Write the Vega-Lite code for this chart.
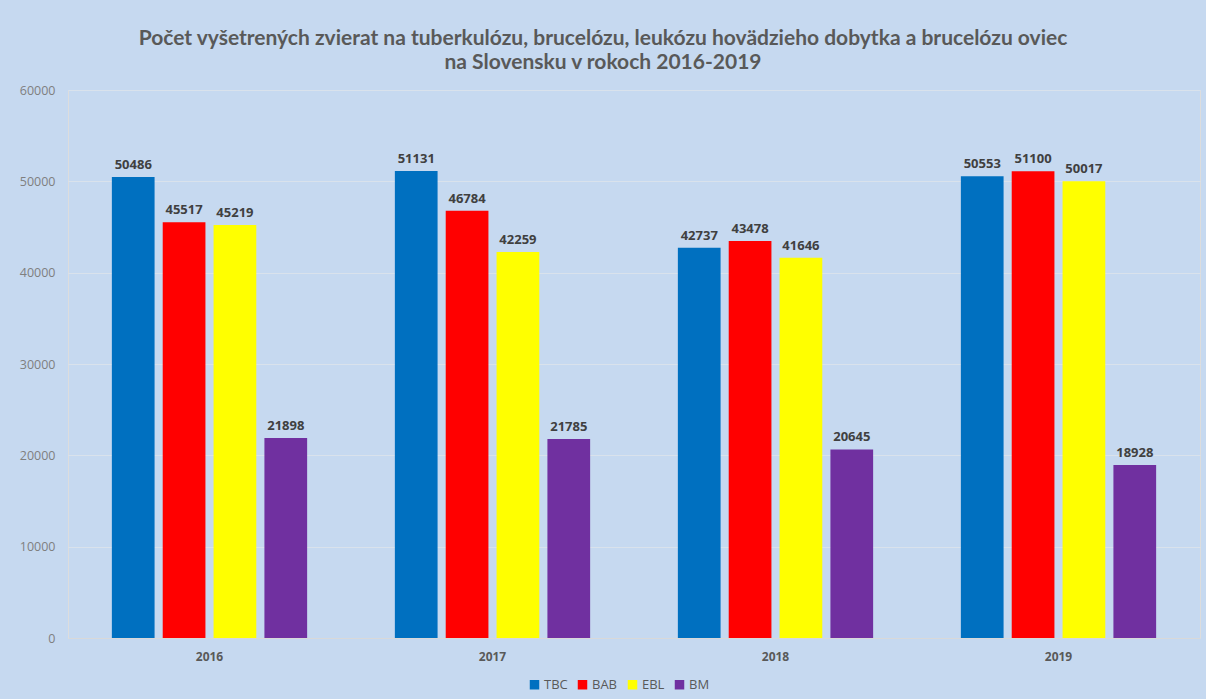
{
  "$schema": "https://vega.github.io/schema/vega-lite/v6.json",
  "width": 1132,
  "height": 548,
  "autosize": {"type": "none"},
  "padding": {"left": 68, "top": 90, "right": 6, "bottom": 61},
  "background": "#C6D9F0",
  "title": {
    "text": ["Počet vyšetrených zvierat na tuberkulózu, brucelózu, leukózu hovädzieho dobytka a brucelózu oviec", "na Slovensku v rokoch 2016-2019"],
    "font": "Lato",
    "fontSize": 21,
    "fontWeight": "bold",
    "color": "#595959",
    "lineHeight": 24,
    "offset": 11,
    "dx": -31
  },
  "data": {
    "values": [
      {"rok": "2016", "typ": "TBC", "pocet": 50486},
      {"rok": "2016", "typ": "BAB", "pocet": 45517},
      {"rok": "2016", "typ": "EBL", "pocet": 45219},
      {"rok": "2016", "typ": "BM", "pocet": 21898},
      {"rok": "2017", "typ": "TBC", "pocet": 51131},
      {"rok": "2017", "typ": "BAB", "pocet": 46784},
      {"rok": "2017", "typ": "EBL", "pocet": 42259},
      {"rok": "2017", "typ": "BM", "pocet": 21785},
      {"rok": "2018", "typ": "TBC", "pocet": 42737},
      {"rok": "2018", "typ": "BAB", "pocet": 43478},
      {"rok": "2018", "typ": "EBL", "pocet": 41646},
      {"rok": "2018", "typ": "BM", "pocet": 20645},
      {"rok": "2019", "typ": "TBC", "pocet": 50553},
      {"rok": "2019", "typ": "BAB", "pocet": 51100},
      {"rok": "2019", "typ": "EBL", "pocet": 50017},
      {"rok": "2019", "typ": "BM", "pocet": 18928}
    ]
  },
  "encoding": {
    "x": {
      "field": "rok", "type": "nominal",
      "scale": {"paddingInner": 0.31, "paddingOuter": 0.155},
      "axis": {
        "title": null, "labelAngle": 0, "labelFont": "Open Sans", "labelFontSize": 12,
        "labelFontWeight": "bold", "labelColor": "#595959", "labelPadding": 13,
        "ticks": false, "domain": true, "domainColor": "#D9D9D9", "grid": false
      }
    },
    "xOffset": {
      "field": "typ", "type": "nominal", "sort": ["TBC", "BAB", "EBL", "BM"],
      "scale": {"paddingInner": 0.16, "paddingOuter": 0}
    },
    "y": {
      "field": "pocet", "type": "quantitative",
      "scale": {"domain": [0, 60000]},
      "axis": {
        "title": null, "values": [0, 10000, 20000, 30000, 40000, 50000, 60000],
        "format": "d", "labelFont": "Open Sans", "labelFontSize": 12.5, "labelColor": "#7F7F7F",
        "labelPadding": 13, "ticks": false, "domain": false,
        "gridColor": "#D9E2EC", "gridWidth": 1
      }
    }
  },
  "layer": [
    {
      "mark": {"type": "bar"},
      "encoding": {
        "color": {
          "field": "typ", "type": "nominal", "sort": ["TBC", "BAB", "EBL", "BM"],
          "scale": {"domain": ["TBC", "BAB", "EBL", "BM"], "range": ["#0070C0", "#FF0000", "#FFFF00", "#7030A0"]},
          "legend": {
            "title": null, "orient": "none", "direction": "horizontal",
            "legendX": 460, "legendY": 588,
            "symbolType": "square", "symbolSize": 90, "symbolStrokeWidth": 0,
            "labelFont": "Open Sans", "labelFontSize": 13, "labelColor": "#595959",
            "columnPadding": 8, "labelOffset": 3
          }
        }
      }
    },
    {
      "mark": {"type": "text", "dy": -12, "font": "Open Sans", "fontSize": 13, "fontWeight": "bold", "color": "#404040"},
      "encoding": {
        "text": {"field": "pocet", "type": "quantitative", "format": "d"}
      }
    }
  ]
}
